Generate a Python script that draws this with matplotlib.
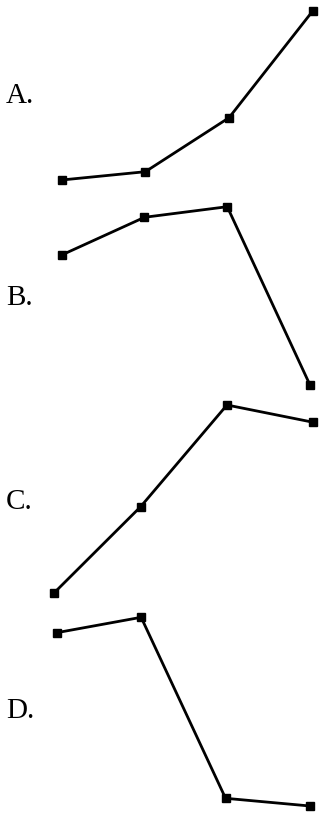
import matplotlib.pyplot as plt

# four small line charts, each labelled A. - D.
labels = ['A.', 'B.', 'C.', 'D.']
x = [1, 2, 3, 4]
values_a = [2.0, 2.83, 8.23, 18.9]
values_b = [14.8, 18.57, 19.63, 1.8]
values_c = [1.23, 9.83, 20.0, 18.27]
values_d = [17.73, 19.27, 1.17, 0.4]
series = [values_a, values_b, values_c, values_d]

W, H = 328, 814
fig = plt.figure(figsize=(W / 100, H / 100), dpi=100)

# panel placement in pixels: (left x, right x, top y), 200 px tall each
panels = [(61.7, 312.7, 0), (61.7, 310, 203), (54.3, 313.3, 405), (56.7, 310, 610)]
label_y = [96, 298, 502, 711]

for (x0, x1, top), vals in zip(panels, series):
    ax = fig.add_axes([x0 / W, 1 - (top + 200) / H, (x1 - x0) / W, 200 / H])
    ax.plot(x, vals, color='black', lw=2, marker='s', ms=6, clip_on=False)
    ax.set_xlim(1, 4)
    ax.set_ylim(0, 20)
    ax.axis('off')

for lab, yy in zip(labels, label_y):
    fig.text(6 / W, 1 - yy / H, lab, fontsize=21, family='Liberation Serif',
             ha='left', va='center')

fig.savefig('out.png', dpi=100)
